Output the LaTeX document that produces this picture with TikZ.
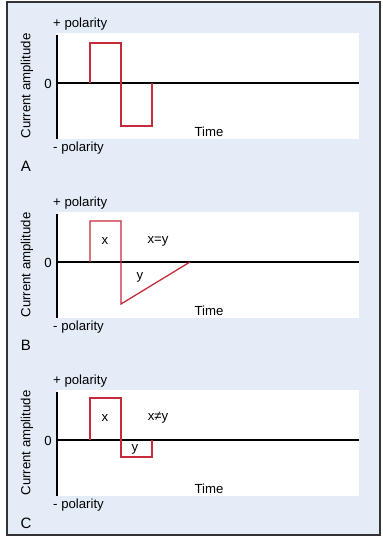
\documentclass[tikz,border=0pt]{standalone}
\usepackage{fontspec}
\setmainfont{Liberation Sans}
\definecolor{panelbg}{HTML}{E3ECF7}
\definecolor{pulsered}{HTML}{C62B3A}

\begin{document}
\begin{tikzpicture}[x=1pt,y=-1pt,
		every node/.style={font=\fontsize{13.2}{15}\selectfont,inner sep=0pt},
		axisline/.style={line width=1.5pt},
		zeroline/.style={line width=1.3pt},
		pulse/.style={draw=pulsered,line width=1.3pt}]
		
		\useasboundingbox (0,0) rectangle (383,539);
		\draw[fill=panelbg,draw=black!80,line width=1.6pt] (7,2) rectangle (380,535);
		
		% the three panels share axes and labels
		\foreach \p/\dy in {A/0,B/179,C/357}{
			\begin{scope}[yshift=-\dy pt]
				\fill[white] (57,33) rectangle (359,139);
				\coordinate (top\p) at (57,35);
				\coordinate (bot\p) at (57,139);
				\coordinate (zero\p) at (57,83);
				\coordinate (end\p) at (359,83);
				\draw[axisline] (top\p) -- (bot\p);
				\draw[zeroline] (zero\p) -- (end\p);
				\node[anchor=west] (plus\p) at (53,24) {+ polarity};
				\node[anchor=west] (minus\p) at (53,148) {- polarity};
				\node (nil\p) at (48,84) {0};
				\node[rotate=90] (amp\p) at (27,86) {Current amplitude};
				\node (time\p) at (209,132) {Time};
				\node[font=\fontsize{15}{17}\selectfont] (tag\p) at (26,166) {\p};
			\end{scope}
		}
		
		% A
		\draw[pulse] (90,83) -- (90,43) -- (121,43) -- (121,126) -- (152,126) -- (152,83);
		
		% B
		\begin{scope}[yshift=-179pt]
			\draw[pulse] (90,83) -- (90,42) -- (121,42) -- (121,125) -- (190,83);
			\node (xB) at (105,62) {x};
			\node (eqB) at (158,62) {x=y};
			\node (yB) at (140,98) {y};
		\end{scope}
		
		% C
		\begin{scope}[yshift=-357pt]
			\draw[pulse] (90,83) -- (90,41) -- (121,41) -- (121,100) -- (152,100) -- (152,83);
			\node (xC) at (105,61) {x};
			\node (neqC) at (158,61) {x≠y};
			\node (yC) at (135,92) {y};
		\end{scope}
\end{tikzpicture}
\end{document}
